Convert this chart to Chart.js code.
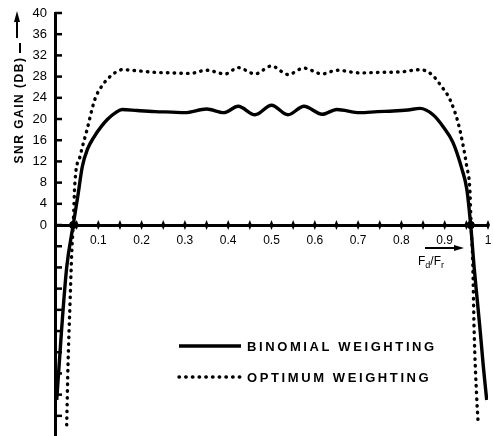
<!DOCTYPE html>
<html>
<head>
<meta charset="utf-8">
<script src="https://cdn.jsdelivr.net/npm/chart.js@4.4.1/dist/chart.umd.min.js"></script>
<style>
  html, body { margin: 0; padding: 0; background: #fff; }
  #wrap { width: 493px; height: 436px; }
</style>
</head>
<body>
<div id="wrap"><canvas id="chart"></canvas></div>
<script>
// values: [Fd/Fr, SNR gain dB]
const binomialGain = [
  [0.004, -33], [0.015, -20], [0.027, -8], [0.042, 0], [0.053, 5.6], [0.063, 11],
  [0.075, 14.3], [0.09, 16.6], [0.108, 18.7], [0.122, 20], [0.14, 21.2], [0.155, 21.8],
  [0.19, 21.6], [0.231, 21.4], [0.27, 21.3], [0.30, 21.2], [0.35, 21.9], [0.39, 21.2],
  [0.423, 22.4], [0.462, 20.8], [0.50, 22.6], [0.538, 20.8], [0.575, 22.4], [0.617, 20.9],
  [0.651, 21.8], [0.704, 21.2], [0.745, 21.4], [0.781, 21.5], [0.815, 21.7], [0.843, 22.0],
  [0.873, 20.8], [0.896, 18.6], [0.919, 15.6], [0.94, 10.5], [0.951, 6.8], [0.96, 0],
  [0.968, -8], [0.975, -14], [0.982, -20], [0.989, -26.5], [0.997, -33]
];
const optimumGain = [
  [0.027, -37.7], [0.03, -26.5], [0.035, -14], [0.039, -4.5], [0.042, 0], [0.046, 8],
  [0.058, 13], [0.074, 18], [0.092, 23.7], [0.108, 26.2], [0.122, 27.6], [0.14, 28.8],
  [0.155, 29.3], [0.19, 29.1], [0.231, 28.8], [0.27, 28.7], [0.312, 28.6], [0.35, 29.2],
  [0.393, 28.5], [0.423, 29.7], [0.462, 28.5], [0.50, 30.0], [0.538, 28.4], [0.575, 29.6],
  [0.617, 28.5], [0.651, 29.2], [0.704, 28.7], [0.75, 28.8], [0.80, 28.9], [0.843, 29.3],
  [0.87, 28.4], [0.893, 26.1], [0.912, 23.7], [0.931, 19.3], [0.943, 14.8], [0.951, 11],
  [0.958, 6.8], [0.961, 0], [0.965, -7.7], [0.968, -20], [0.974, -32.7], [0.977, -37]
];
const seriesNames = ['BINOMIAL WEIGHTING', 'OPTIMUM WEIGHTING'];

const xTicks = [0.05, 0.1, 0.15, 0.2, 0.25, 0.3, 0.35, 0.4, 0.45, 0.5,
                0.55, 0.6, 0.65, 0.7, 0.75, 0.8, 0.85, 0.9, 0.95, 1];
const xTickLabels = ['', '0.1', '', '0.2', '', '0.3', '', '0.4', '', '0.5',
                     '', '0.6', '', '0.7', '', '0.8', '', '0.9', '', '1'];
const yTicks = [-36, -32, -28, -24, -20, -16, -12, -8, -4, 0, 4, 8, 12, 16, 20, 24, 28, 32, 36, 40];

const FONT = '"Liberation Sans", Arial, sans-serif';

// extra marks: crossing ticks, y title, x label, legend
const decorations = {
  id: 'decorations',
  afterDraw(chart) {
    const { ctx, chartArea, scales: { x, y } } = chart;
    const y0 = y.getPixelForValue(0);
    ctx.save();
    ctx.fillStyle = '#000';
    ctx.strokeStyle = '#000';

    // diamond ticks across the x axis
    x.ticks.forEach(t => {
      const px = x.getPixelForValue(t.value);
      ctx.beginPath();
      ctx.moveTo(px, y0 - 5);
      ctx.lineTo(px + 2, y0);
      ctx.lineTo(px, y0 + 5);
      ctx.lineTo(px - 2, y0);
      ctx.closePath();
      ctx.fill();
    });

    // y ticks point inwards
    ctx.lineWidth = 2.5;
    y.ticks.forEach(t => {
      const py = y.getPixelForValue(t.value);
      ctx.beginPath();
      ctx.moveTo(chartArea.left, py);
      ctx.lineTo(chartArea.left + 7, py);
      ctx.stroke();
    });

    // y title, rotated, with arrow
    ctx.save();
    ctx.translate(20, 110);
    ctx.rotate(-Math.PI / 2);
    ctx.font = 'bold 12px ' + FONT;
    ctx.letterSpacing = '1.5px';
    ctx.textAlign = 'center';
    ctx.textBaseline = 'middle';
    ctx.fillText('SNR GAIN (DB)', 0, 0);
    ctx.restore();
    ctx.lineWidth = 2;
    ctx.beginPath();
    ctx.moveTo(20, 53); ctx.lineTo(20, 43);
    ctx.moveTo(17, 38); ctx.lineTo(17, 20);
    ctx.stroke();
    ctx.beginPath();
    ctx.moveTo(17, 11); ctx.lineTo(20, 22); ctx.lineTo(14, 22); ctx.closePath();
    ctx.fill();

    // x label Fd/Fr with arrow
    ctx.beginPath();
    ctx.moveTo(425, 248); ctx.lineTo(455, 248);
    ctx.stroke();
    ctx.beginPath();
    ctx.moveTo(464, 248); ctx.lineTo(454, 245); ctx.lineTo(454, 251); ctx.closePath();
    ctx.fill();
    ctx.textBaseline = 'alphabetic';
    ctx.textAlign = 'left';
    let cx = 418;
    const part = (txt, size, dy) => {
      ctx.font = size + 'px ' + FONT;
      ctx.fillText(txt, cx, 265 + dy);
      cx += ctx.measureText(txt).width;
    };
    part('F', 12, 0); part('d', 9, 3); part('/', 12, 0); part('F', 12, 0); part('r', 9, 3);

    // legend
    const rows = [346, 377];
    chart.data.datasets.forEach((ds, i) => {
      const ly = rows[i];
      ctx.save();
      ctx.lineWidth = ds.borderWidth;
      ctx.lineCap = ds.borderCapStyle || 'butt';
      ctx.setLineDash(ds.borderDash || []);
      ctx.beginPath();
      ctx.moveTo(179, ly); ctx.lineTo(241, ly);
      ctx.stroke();
      ctx.restore();
      ctx.font = 'bold 13px ' + FONT;
      ctx.letterSpacing = '2.6px';
      ctx.textBaseline = 'middle';
      ctx.fillText(ds.label, 247, ly + 1);
      ctx.letterSpacing = '0px';
    });
    ctx.restore();
  }
};

new Chart(document.getElementById('chart'), {
  type: 'line',
  data: {
    datasets: [
      {
        label: seriesNames[0],
        data: binomialGain.map(([x, y]) => ({ x, y })),
        borderColor: '#000',
        backgroundColor: '#000',
        borderWidth: 3.4,
        pointRadius: c => (c.raw && c.raw.y === 0 ? 4 : 0),
        pointBorderWidth: 0,
        cubicInterpolationMode: 'monotone',
        fill: false,
      },
      {
        label: seriesNames[1],
        data: optimumGain.map(([x, y]) => ({ x, y })),
        borderColor: '#000',
        borderWidth: 3.4,
        borderDash: [0.5, 6.2],
        borderCapStyle: 'round',
        pointRadius: 0,
        cubicInterpolationMode: 'monotone',
        fill: false,
      }
    ]
  },
  options: {
    responsive: true,
    maintainAspectRatio: false,
    animation: false,
    layout: { padding: { top: 13, right: 5, left: 0, bottom: 0 } },
    plugins: {
      legend: { display: false },
      tooltip: { enabled: false }
    },
    scales: {
      x: {
        type: 'linear',
        min: 0,
        max: 1,
        position: { y: 0 },
        afterBuildTicks: s => { s.ticks = xTicks.map(v => ({ value: v })); },
        afterFit: s => { s.paddingLeft = 0; s.paddingRight = 0; },
        grid: { display: false },
        border: { display: true, width: 3, color: '#000' },
        ticks: {
          callback: (v, i) => xTickLabels[i],
          color: '#000',
          font: { family: FONT, size: 12 },
          padding: 0,
          maxRotation: 0,
          autoSkip: false
        }
      },
      y: {
        type: 'linear',
        min: -39.8,
        max: 40,
        afterBuildTicks: s => { s.ticks = yTicks.map(v => ({ value: v })); },
        afterFit: s => { s.width = 55; s.paddingTop = 0; s.paddingBottom = 0; },
        grid: { display: false },
        border: { display: true, width: 3, color: '#000' },
        ticks: {
          callback: v => (v >= 0 ? String(v) : ''),
          color: '#000',
          font: { family: FONT, size: 13 },
          padding: 0,
          autoSkip: false
        }
      }
    }
  },
  plugins: [decorations]
});
</script>
</body>
</html>
